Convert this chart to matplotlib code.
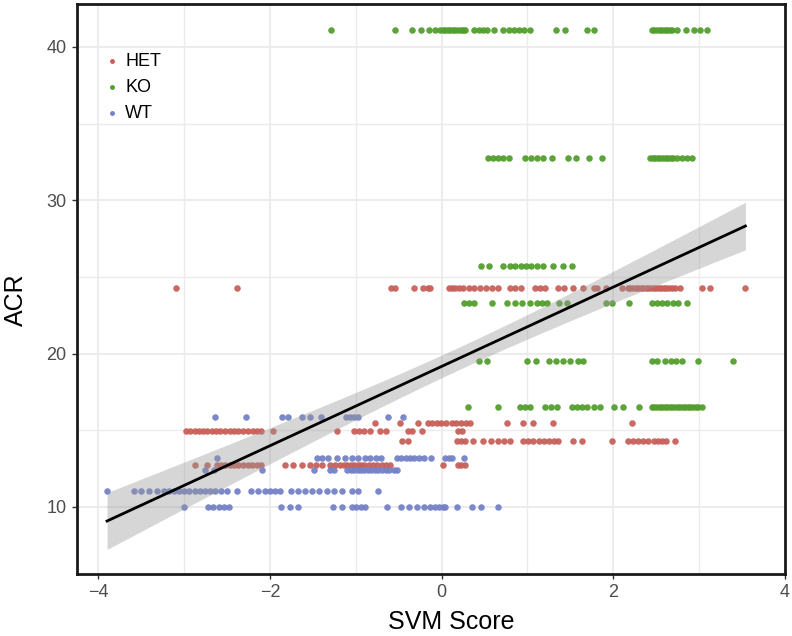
import numpy as np
import matplotlib
matplotlib.use("Agg")
import matplotlib.pyplot as plt
from matplotlib.ticker import MultipleLocator

# -- data: SVM score per sample, grouped by genotype and ACR level

groups = ["HET", "KO", "WT"]
colors = {"HET": "#C8605A", "KO": "#539E2E", "WT": "#7482C6"}

het_rows = {
    24.25: [-3.10, -2.38, -0.59, -0.54, -0.32, -0.22, -0.16, -0.13, 0.08, 0.12, 0.16, 0.20,
            0.25, 0.32, 0.38, 0.45, 0.52, 0.59, 0.66, 0.80, 0.86, 0.93, 1.09, 1.15, 1.21,
            1.36, 1.43, 1.53, 1.65, 1.77, 1.81, 1.92, 2.10, 2.17, 2.20, 2.23, 2.26, 2.29,
            2.32, 2.35, 2.38, 2.41, 2.44, 2.47, 2.50, 2.53, 2.56, 2.59, 2.62, 2.65, 2.68,
            2.72, 2.78, 3.03, 3.13, 3.54],
    15.45: [-0.78, -0.48, -0.28, -0.16, -0.11, -0.06, -0.01, 0.05, 0.12, 0.17, 0.22, 0.28,
            0.33, 0.76, 0.95, 1.07, 1.30, 2.22],
    14.98: [-2.98, -2.93, -2.88, -2.83, -2.78, -2.73, -2.68, -2.63, -2.58, -2.53, -2.47,
            -2.42, -2.37, -2.31, -2.26, -2.20, -2.15, -2.10, -1.97, -1.22, -1.02, -0.96,
            -0.91, -0.84, -0.72, -0.65, -0.39, -0.34, -0.23, 0.19, 0.24],
    14.30: [-0.46, -0.39, 0.18, 0.22, 0.27, 0.37, 0.48, 0.58, 0.66, 0.73, 0.80, 0.95, 1.01,
            1.07, 1.13, 1.19, 1.25, 1.31, 1.36, 1.53, 1.63, 1.98, 2.17, 2.23, 2.29, 2.35,
            2.41, 2.47, 2.52, 2.57, 2.62, 2.72],
    12.75: [-2.88, -2.74, -2.62, -2.57, -2.52, -2.47, -2.42, -2.37, -2.31, -2.26, -2.21,
            -2.15, -2.10, -1.83, -1.73, -1.63, -1.53, -1.47, -1.40, -1.30, -1.24, -1.18,
            -1.14, -1.10, -1.06, -1.02, -0.98, -0.94, -0.90, -0.85, -0.80, -0.75, -0.70,
            -0.65, -0.60, 0.02, 0.19, 0.23, 0.27],
}

ko_rows = {
    41.10: [-1.29, -0.54, -0.34, -0.24, -0.15, -0.08, -0.02, 0.01, 0.04, 0.07, 0.10, 0.13,
            0.16, 0.19, 0.22, 0.25, 0.27, 0.38, 0.43, 0.48, 0.53, 0.61, 0.72, 0.78, 0.84,
            0.90, 0.96, 1.03, 1.33, 1.44, 1.69, 1.77, 2.45, 2.48, 2.51, 2.54, 2.57, 2.60,
            2.63, 2.66, 2.69, 2.74, 2.85, 2.94, 3.01, 3.09],
    32.75: [0.54, 0.60, 0.66, 0.72, 0.79, 0.97, 1.04, 1.11, 1.18, 1.29, 1.47, 1.57, 1.72,
            1.87, 2.43, 2.46, 2.49, 2.52, 2.55, 2.58, 2.61, 2.64, 2.67, 2.70, 2.74, 2.80,
            2.86, 2.92],
    25.70: [0.46, 0.55, 0.71, 0.80, 0.86, 0.92, 0.98, 1.04, 1.11, 1.18, 1.30, 1.41, 1.52],
    23.30: [0.26, 0.32, 0.38, 0.59, 0.76, 0.85, 0.94, 1.03, 1.11, 1.17, 1.23, 1.37, 1.46,
            1.91, 1.98, 2.18, 2.45, 2.51, 2.57, 2.63, 2.70, 2.76, 2.86],
    19.55: [0.44, 0.53, 0.99, 1.10, 1.25, 1.33, 1.42, 1.50, 1.59, 1.65, 2.45, 2.51, 2.60,
            2.67, 2.73, 2.80, 2.99, 3.39],
    16.50: [0.31, 0.66, 0.91, 0.97, 1.03, 1.21, 1.27, 1.34, 1.52, 1.58, 1.64, 1.69, 1.77,
            1.85, 2.01, 2.11, 2.30, 2.45, 2.48, 2.51, 2.54, 2.57, 2.60, 2.63, 2.66, 2.69,
            2.72, 2.75, 2.78, 2.81, 2.84, 2.87, 2.90, 2.93, 2.96, 2.99, 3.04],
}

wt_rows = {
    15.90: [-2.64, -2.28, -1.86, -1.79, -1.63, -1.54, -1.41, -1.12, -1.07, -1.02, -0.97,
            -0.62, -0.45],
    13.20: [-2.62, -1.45, -1.39, -1.32, -1.22, -1.13, -1.05, -0.98, -0.89, -0.83, -0.76,
            -0.71, -0.52, -0.47, -0.42, -0.37, -0.32, -0.26, -0.21, -0.12, 0.04, 0.09,
            0.12, 0.26],
    12.40: [-2.76, -2.65, -2.09, -1.49, -1.30, -1.26, -1.10, -1.06, -1.02, -0.98, -0.94,
            -0.90, -0.86, -0.82, -0.78, -0.74, -0.69, -0.65, -0.61, -0.56, -0.52],
    11.05: [-3.90, -3.58, -3.50, -3.41, -3.32, -3.24, -3.18, -3.12, -3.06, -3.00, -2.94,
            -2.88, -2.82, -2.76, -2.70, -2.64, -2.57, -2.50, -2.39, -2.22, -2.14, -2.06,
            -2.00, -1.94, -1.88, -1.75, -1.67, -1.59, -1.51, -1.43, -1.34, -1.26, -1.16,
            -1.05, -0.98, -0.74],
    10.00: [-3.00, -2.72, -2.66, -2.60, -2.54, -2.48, -1.87, -1.77, -1.68, -1.27, -1.16,
            -1.05, -1.00, -0.94, -0.89, -0.64, -0.47, -0.38, -0.29, -0.20, -0.14, -0.08,
            -0.03, 0.02, 0.04, 0.18, 0.35, 0.46, 0.66],
}

x_ticks = [-4, -2, 0, 2, 4]
y_ticks = [10, 20, 30, 40]


def flatten(rows):
    xs, ys = [], []
    for level, scores in rows.items():
        xs.extend(scores)
        ys.extend([level] * len(scores))
    return np.array(xs), np.array(ys)


def lm_band(x, y, grid):
    # linear fit with 95% confidence band, like geom_smooth(method="lm")
    n = len(x)
    slope, intercept = np.polyfit(x, y, 1)
    fit = intercept + slope * grid
    resid = y - (intercept + slope * x)
    s = np.sqrt(np.sum(resid ** 2) / (n - 2))
    sxx = np.sum((x - x.mean()) ** 2)
    se = s * np.sqrt(1.0 / n + (grid - x.mean()) ** 2 / sxx)
    return fit, fit - 1.965 * se, fit + 1.965 * se


def main():
    plt.rcParams["font.family"] = ["Liberation Sans", "DejaVu Sans"]
    fig = plt.figure(figsize=(7.92, 6.36), dpi=100)
    ax = fig.add_axes([0.0972, 0.0975, 0.8938, 0.8962])

    data = {"HET": flatten(het_rows), "KO": flatten(ko_rows), "WT": flatten(wt_rows)}

    for g in groups:
        xs, ys = data[g]
        ax.scatter(xs, ys, s=22, color=colors[g], alpha=0.95, linewidths=0,
                   zorder=3, label=g)

    all_x = np.concatenate([data[g][0] for g in groups])
    all_y = np.concatenate([data[g][1] for g in groups])
    grid = np.linspace(all_x.min(), all_x.max(), 200)
    fit, lo, hi = lm_band(all_x, all_y, grid)
    ax.fill_between(grid, lo, hi, color="#999999", alpha=0.4, linewidth=0, zorder=4)
    ax.plot(grid, fit, color="black", linewidth=2.0, zorder=5)

    ax.set_xlim(-4.25, 4.0)
    ax.set_ylim(5.63, 42.8)
    ax.set_xticks(x_ticks)
    ax.set_yticks(y_ticks)
    ax.set_xticklabels(["\u22124", "\u22122", "0", "2", "4"])
    ax.xaxis.set_minor_locator(MultipleLocator(1))
    ax.yaxis.set_minor_locator(MultipleLocator(5))
    ax.grid(which="major", color="#EBEBEB", linewidth=1.3, zorder=0)
    ax.grid(which="minor", color="#EBEBEB", linewidth=1.0, zorder=0)
    ax.set_axisbelow(True)
    ax.tick_params(which="major", length=3.5, width=1.0, color="#333333",
                   labelsize=13, labelcolor="#4D4D4D", pad=4)
    ax.tick_params(which="minor", length=0)
    for sp in ax.spines.values():
        sp.set_linewidth(2.0)
        sp.set_color("#1A1A1A")

    fig.text(451 / 792, 1 - 622 / 636, "SVM Score", fontsize=18, ha="center", va="center")
    fig.text(16 / 792, 1 - 300 / 636, "ACR", fontsize=18, rotation=90,
             ha="center", va="center")

    leg = ax.legend(loc="upper left", bbox_to_anchor=(0.026, 0.927), frameon=False,
                    fontsize=13, markerscale=0.75, handletextpad=0.25,
                    labelspacing=0.5, borderaxespad=0, handlelength=1.0)
    for h in leg.legend_handles:
        h.set_alpha(1)

    fig.savefig("out.png", dpi=100)


if __name__ == "__main__":
    main()
